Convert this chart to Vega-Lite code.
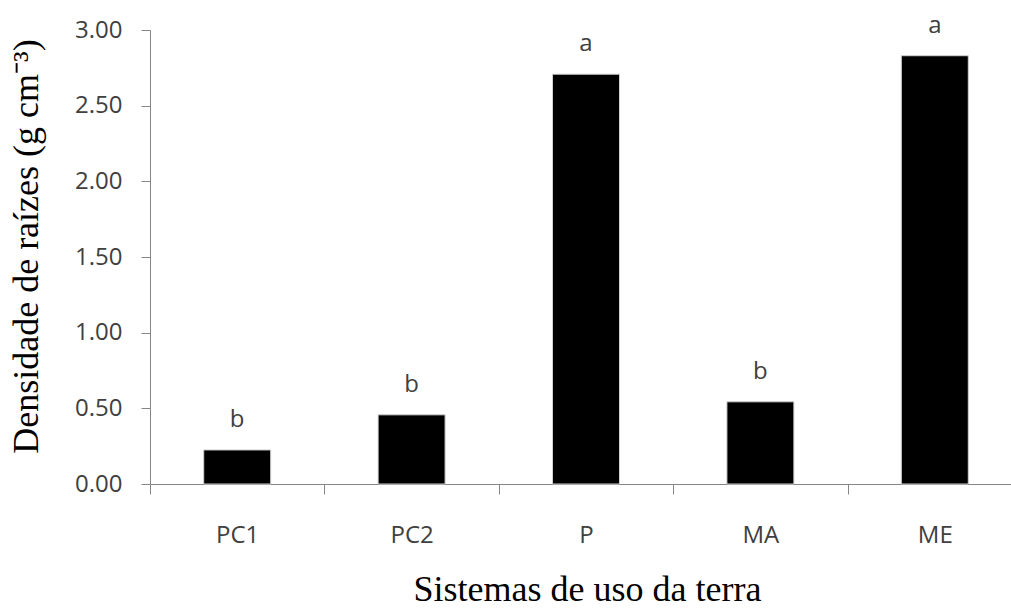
{
  "$schema": "https://vega.github.io/schema/vega-lite/v6.json",
  "width": 861,
  "height": 454,
  "autosize": {"type": "none"},
  "padding": {"left": 150, "top": 30, "right": 0, "bottom": 124},
  "background": "white",
  "config": {"view": {"stroke": null}},
  "data": {
    "values": [
      {"sistema": "PC1", "densidade": 0.225, "letra": "b"},
      {"sistema": "PC2", "densidade": 0.457, "letra": "b"},
      {"sistema": "P", "densidade": 2.708, "letra": "a"},
      {"sistema": "MA", "densidade": 0.543, "letra": "b"},
      {"sistema": "ME", "densidade": 2.83, "letra": "a"}
    ]
  },
  "encoding": {
    "x": {
      "field": "sistema",
      "type": "nominal",
      "sort": null,
      "scale": {"range": [0, 872], "paddingInner": 0.616, "paddingOuter": 0.308},
      "axis": {
        "title": "Sistemas de uso da terra",
        "titleFont": "Liberation Serif",
        "titleFontSize": 36,
        "titleFontWeight": "normal",
        "titleColor": "black",
        "titleX": 437,
        "titleY": 116,
        "titleBaseline": "alphabetic",
        "tickOffset": -87.2,
        "labelOffset": 87.2,
        "tickSize": 10,
        "tickColor": "#868686",
        "domainColor": "#868686",
        "labelAngle": 0,
        "labelFont": "Open Sans",
        "labelFontSize": 24,
        "labelColor": "#404040",
        "labelPadding": 48,
        "labelBaseline": "alphabetic"
      }
    },
    "y": {
      "field": "densidade",
      "type": "quantitative",
      "scale": {"domain": [0, 3], "nice": false},
      "axis": {
        "values": [0, 0.5, 1, 1.5, 2, 2.5, 3],
        "format": ".2f",
        "grid": false,
        "tickSize": 9,
        "tickColor": "#868686",
        "domainColor": "#868686",
        "labelFont": "Open Sans",
        "labelFontSize": 24,
        "labelColor": "#404040",
        "labelPadding": 19,
        "title": "Densidade de raízes (g cm⁻³)",
        "titleFont": "Liberation Serif",
        "titleFontSize": 36,
        "titleFontWeight": "normal",
        "titleColor": "black",
        "titleX": -113,
        "titleY": 216,
        "titleAngle": 270,
        "titleBaseline": "alphabetic"
      }
    }
  },
  "layer": [
    {"mark": {"type": "bar", "color": "black", "stroke": "#d0d0d0", "strokeWidth": 1}},
    {
      "mark": {"type": "text", "dy": -23, "baseline": "alphabetic", "font": "Open Sans", "fontSize": 24, "color": "#404040"},
      "encoding": {"text": {"field": "letra"}}
    }
  ]
}
